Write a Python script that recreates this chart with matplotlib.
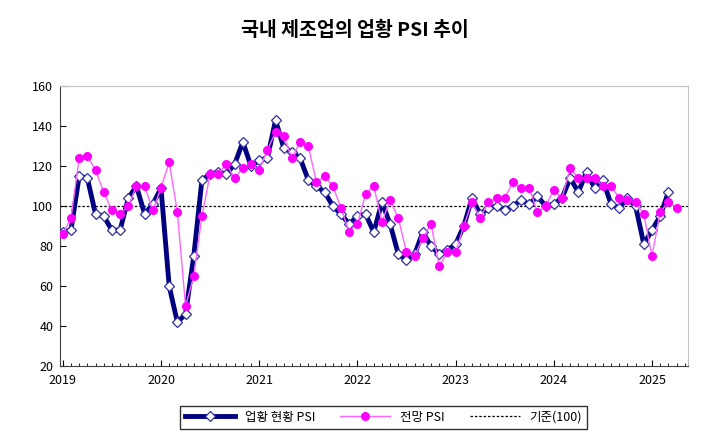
import numpy as np
import matplotlib.pyplot as plt

plt.rcParams['font.family'] = ['Noto Sans CJK KR', 'DejaVu Sans']

# monthly, Jan 2019 ~
current_psi = [87, 88, 115, 114, 96, 95, 88, 88, 104, 110, 96, 101,
               109, 60, 42, 46, 75, 113, 116, 117, 116, 121, 132, 120,
               123, 124, 143, 129, 127, 124, 113, 110, 107, 100, 96, 91,
               95, 96, 87, 102, 91, 76, 73, 76, 87, 80, 76, 78,
               81, 90, 104, 96, 99, 100, 98, 100, 103, 101, 105, 100,
               101, 104, 114, 107, 117, 109, 113, 101, 99, 104, 100, 81,
               88, 95, 107]
outlook_psi = [86, 94, 124, 125, 118, 107, 98, 96, 100, 110, 110, 98,
               109, 122, 97, 50, 65, 95, 116, 116, 121, 114, 119, 121,
               118, 128, 137, 135, 124, 132, 130, 112, 115, 110, 99, 87,
               91, 106, 110, 92, 103, 94, 77, 75, 84, 91, 70, 77,
               77, 90, 102, 94, 102, 104, 104, 112, 109, 109, 97, 100,
               108, 104, 119, 114, 114, 114, 110, 110, 104, 103, 102, 96,
               75, 97, 102, 99]
years = ['2019', '2020', '2021', '2022', '2023', '2024', '2025']

fig = plt.figure(figsize=(7.10, 4.46), dpi=100)
ax = fig.add_axes([0.085, 0.179, 0.884, 0.628])

x1 = np.arange(len(current_psi))
x2 = np.arange(len(outlook_psi))
ax.plot(x1, current_psi, color='#000080', lw=3.5, marker='D', ms=5.5,
        mfc='white', mec='#3030a0', mew=0.9, label='업황 현황 PSI', zorder=3)
ax.plot(x2, outlook_psi, color='#ff66ff', lw=1, marker='o', ms=5.5,
        mfc='#ff00ff', mec='#ff00ff', label='전망 PSI', zorder=4)
ax.axhline(100, color='black', ls=(0, (2, 1.5)), lw=0.9, label='기준(100)', zorder=2)

ax.set_ylim(20, 160)
ax.set_yticks(range(20, 161, 20))
ax.set_xlim(-0.3, 76.4)
ax.set_xticks(np.arange(len(years)) * 12)
ax.set_xticklabels(years)
ax.set_xticks(np.arange(0, 77), minor=True)
ax.tick_params(axis='x', which='major', length=4, direction='in', labelsize=9, pad=6)
ax.tick_params(axis='x', which='minor', length=2, direction='in')
ax.tick_params(axis='y', length=4, direction='in', labelsize=9, pad=5)
ax.spines['top'].set_color('#c0c0c0')
ax.spines['right'].set_color('#c0c0c0')
ax.spines['left'].set_color('#404040')
ax.spines['bottom'].set_color('#404040')

fig.text(0.5, 0.932, '국내 제조업의 업황 PSI 추이', ha='center', va='center',
         fontsize=14, fontweight='bold')
fig.legend(loc='center', bbox_to_anchor=(0.54, 0.065), ncol=3, frameon=True,
           fancybox=False, edgecolor='black', fontsize=9, handlelength=4,
           columnspacing=2)

fig.savefig('out.png', dpi=100)
